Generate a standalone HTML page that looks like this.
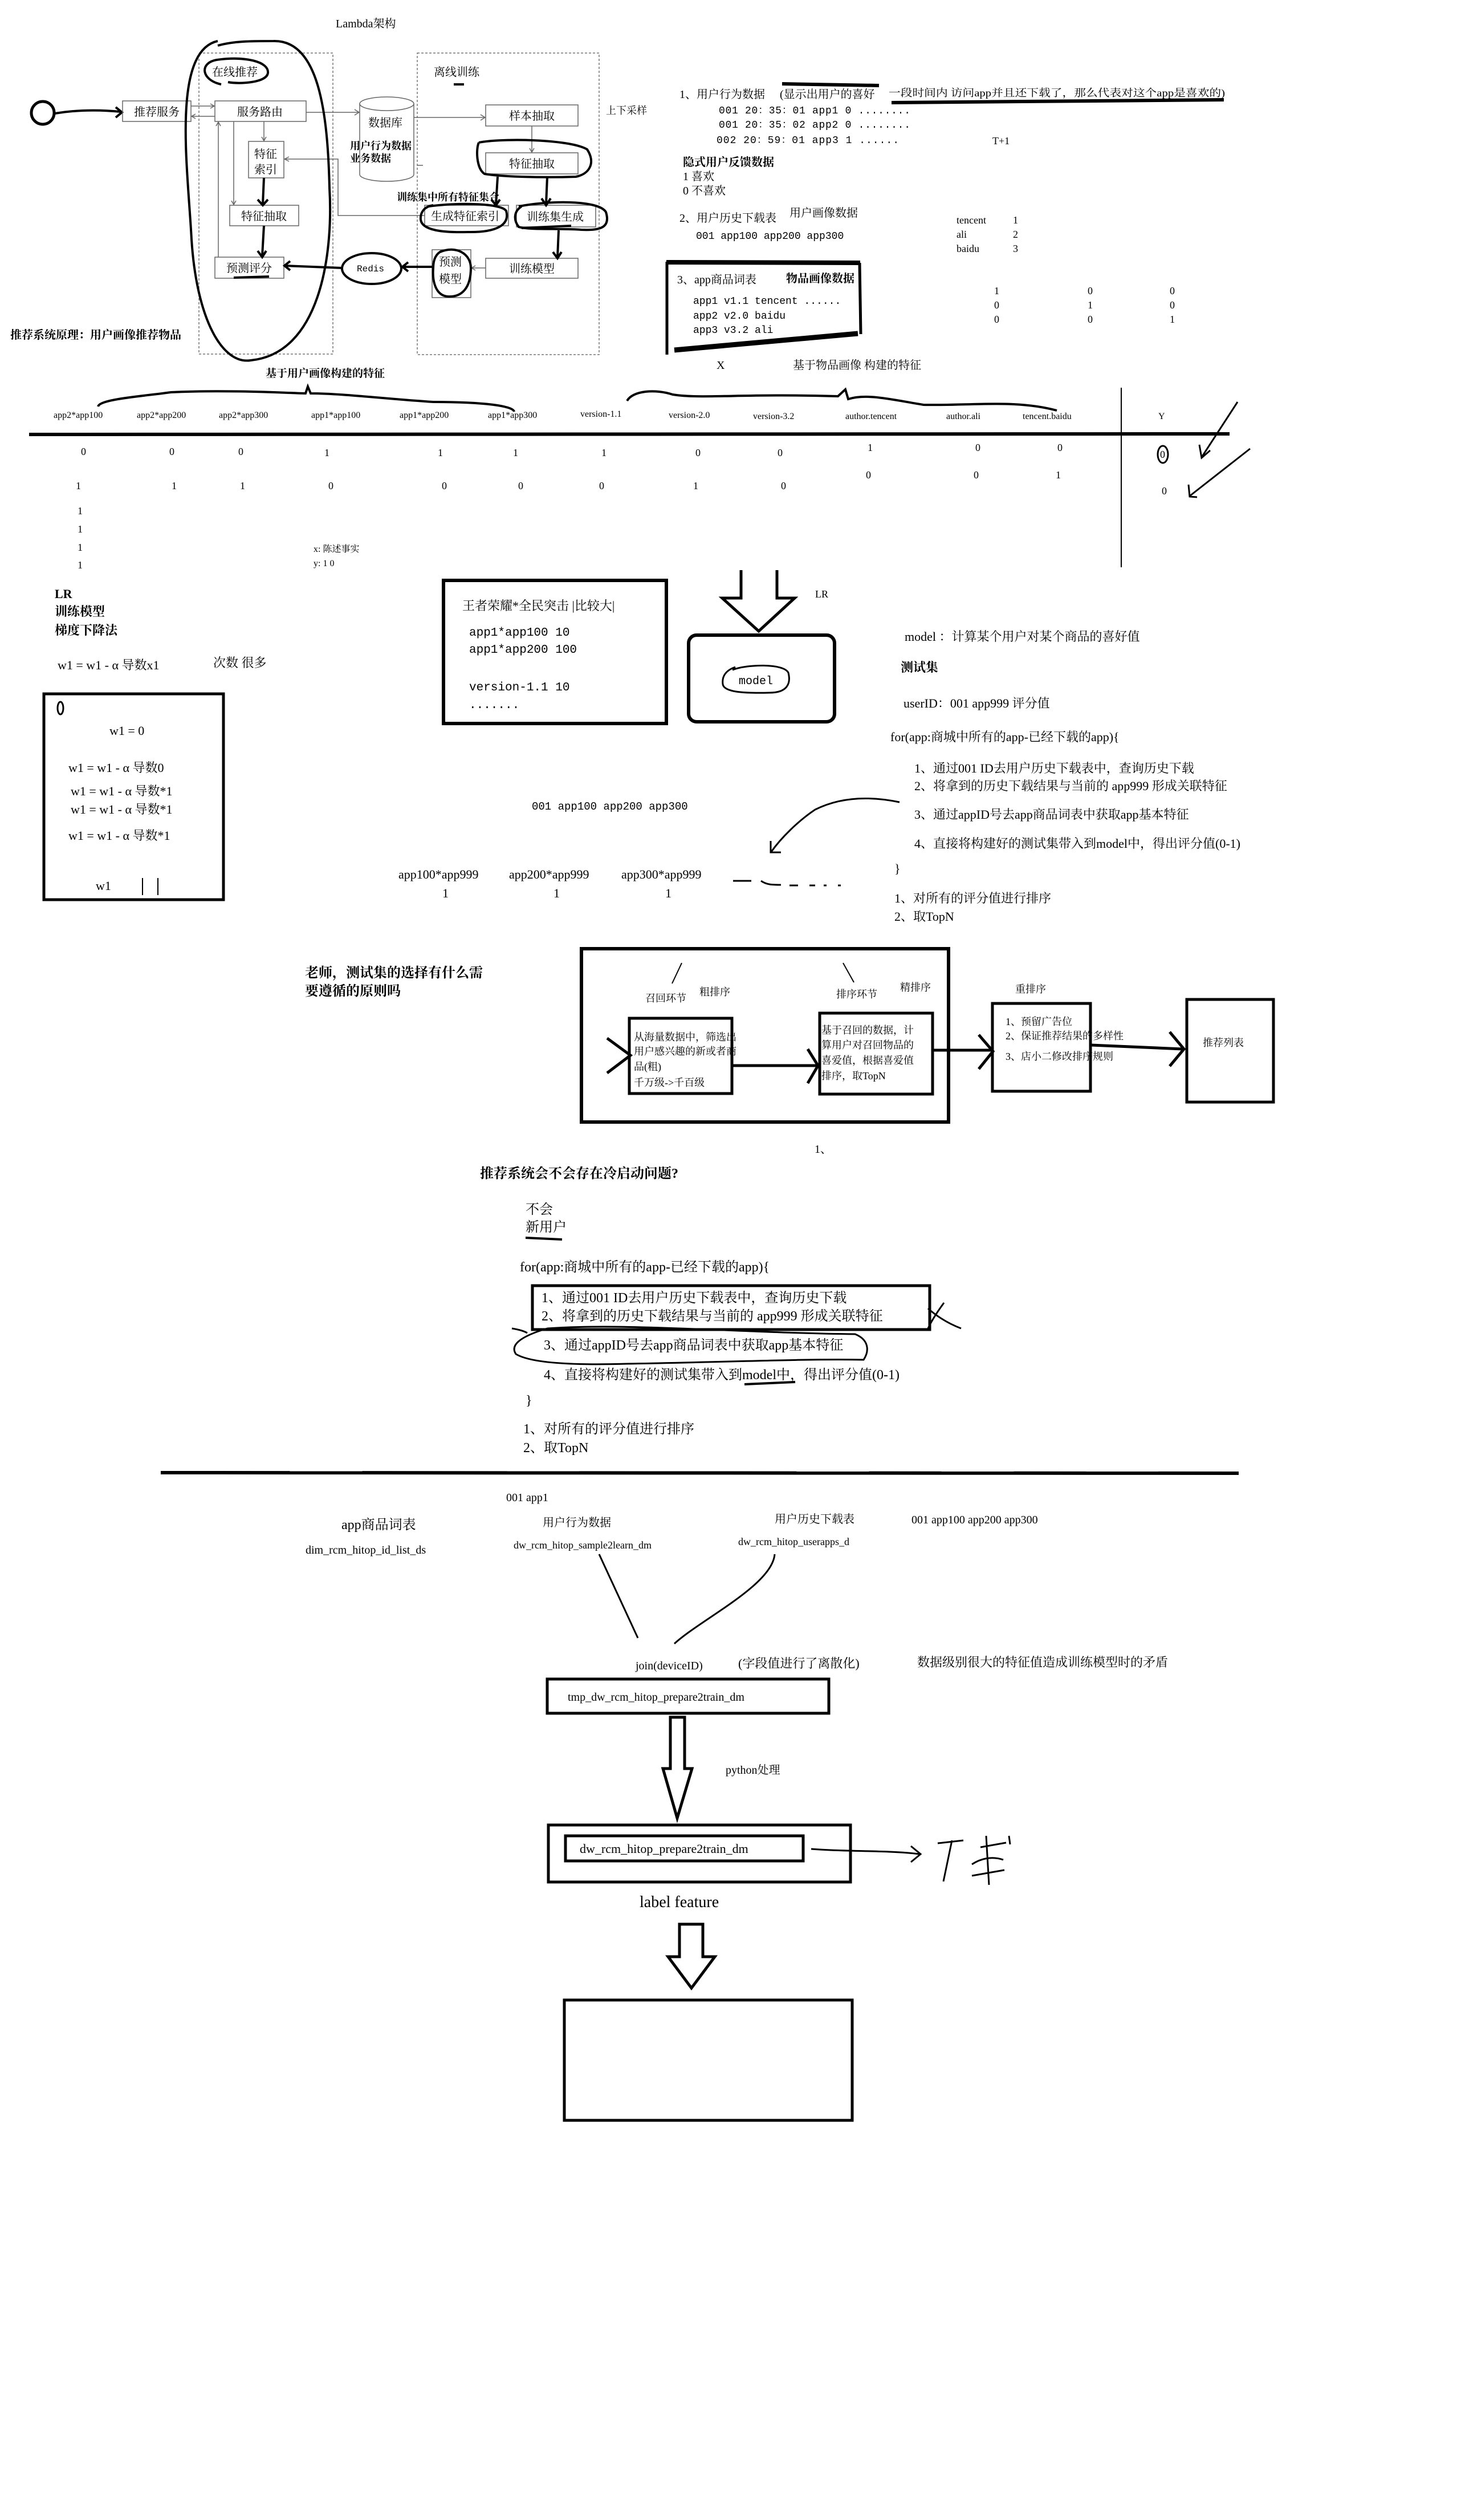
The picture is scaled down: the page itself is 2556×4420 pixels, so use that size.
<!DOCTYPE html>
<html><head><meta charset="utf-8">
<style>
html,body{margin:0;padding:0;background:#fff;}
svg{display:block;}
text{font-family:"Liberation Serif","Noto Serif CJK SC",serif;fill:#000;}
.m{font-family:"Liberation Mono","Noto Serif CJK SC",monospace;}
.a{font-family:"Liberation Sans","Noto Sans CJK SC",sans-serif;}
.b{font-weight:bold;}
</style></head>
<body>
<svg width="2556" height="4420" viewBox="0 0 2556 4420" xmlns="http://www.w3.org/2000/svg">
<rect width="2556" height="4420" fill="#fff"/>
<!-- ========== Section 1: Lambda ========== -->
<g font-size="20">
<text x="589" y="48">Lambda架构</text>
<rect x="349" y="93" width="235" height="528" fill="none" stroke="#777" stroke-width="1.5" stroke-dasharray="4,3"/>
<rect x="732" y="93" width="319" height="529" fill="none" stroke="#777" stroke-width="1.5" stroke-dasharray="4,3"/>
<circle cx="75" cy="198" r="20" fill="none" stroke="#000" stroke-width="5"/>
<path d="M96,199 Q150,190 212,196" fill="none" stroke="#000" stroke-width="4"/>
<polyline points="203,188 214,197 203,206" fill="none" stroke="#000" stroke-width="4"/>
<g fill="none" stroke="#666" stroke-width="1.5">
<rect x="215" y="177" width="120" height="36"/>
<rect x="377" y="177" width="160" height="36"/>
<rect x="436" y="248" width="62" height="64"/>
<rect x="403" y="360" width="121" height="36"/>
<rect x="377" y="451" width="121" height="37"/>
<rect x="852" y="184" width="162" height="37"/>
<rect x="852" y="268" width="162" height="37"/>
<rect x="745" y="360" width="147" height="36"/>
<rect x="906" y="360" width="139" height="38"/>
<rect x="852" y="453" width="162" height="35"/>
<rect x="758" y="438" width="68" height="84"/>
<path d="M335,186 H375 M369,182 L376,186 L369,190 M377,204 H337 M343,200 L336,204 L343,208"/>
<path d="M463,213 V246 M459,240 L463,247 L467,240"/>
<path d="M410,213 V358 M406,352 L410,359 L414,352"/>
<path d="M383,451 V215 M379,221 L383,214 L387,221"/>
<path d="M537,197 H629 M622,192 L630,197 L622,202"/>
<path d="M726,206 H850 M843,201 L851,206 L843,211"/>
<path d="M933,221 V266 M929,260 L933,267 L937,260"/>
<path d="M745,378 H593 V279 H500 M507,275 L499,279 L507,283"/>
<path d="M852,470 H828 M834,466 L827,470 L834,474"/>
<path d="M631,182 V306 A47.5,12 0 0 0 726,306 V182"/>
<ellipse cx="678.5" cy="182" rx="47.5" ry="12"/>
<path d="M732,290 H742"/>
</g>
<text x="235" y="203">推荐服务</text>
<text x="416" y="203">服务路由</text>
<text x="446" y="277">特征</text>
<text x="446" y="304">索引</text>
<text x="423" y="386">特征抽取</text>
<text x="397" y="477">预测评分</text>
<text x="646" y="222">数据库</text>
<text x="614" y="262" font-size="18" class="b">用户行为数据</text>
<text x="614" y="284" font-size="18" class="b">业务数据</text>
<text x="893" y="210">样本抽取</text>
<text x="893" y="294">特征抽取</text>
<text x="696" y="352" font-size="18" class="b">训练集中所有特征集合</text>
<text x="756" y="386">生成特征索引</text>
<text x="924" y="387">训练集生成</text>
<text x="893" y="478">训练模型</text>
<text x="770" y="466">预测</text>
<text x="770" y="496">模型</text>
<text x="626" y="476" font-size="16" class="m">Redis</text>
<text x="372" y="133">在线推荐</text>
<text x="761" y="133">离线训练</text>
<text x="1063" y="200" font-size="18">上下采样</text>
<text x="18" y="594" class="b">推荐系统原理：用户画像推荐物品</text>
<text x="466" y="661" class="b" font-size="19">基于用户画像构建的特征</text>
<g fill="none" stroke="#000" stroke-width="4">
<path d="M463,312 L461,358 M452,350 L461,360 L470,350"/>
<path d="M463,396 L460,449 M452,440 L460,451 L467,440"/>
<path d="M410,487 L472,485"/>
<path d="M600,470 L500,466 M509,458 L499,466 L509,474"/>
<path d="M758,468 L707,468 M716,460 L706,468 L716,476"/>
<ellipse cx="652" cy="471" rx="52" ry="27"/>
<path d="M382,72 C300,90 330,300 336,420 C345,560 390,640 440,632 C560,620 585,450 578,330 C575,200 560,70 480,72 C440,72 410,72 382,80"/>
<path d="M388,148 C352,140 350,110 380,105 C430,98 472,108 470,128 C468,145 420,148 400,144"/>
<path d="M796,148 H814"/>
<path d="M840,250 C880,242 1000,244 1030,262 C1045,285 1035,305 1010,310 C950,312 880,310 850,305 C835,295 835,260 840,250"/>
<path d="M873,310 L870,358 M862,350 L870,360 L877,350"/>
<path d="M960,310 L958,358 M950,348 L958,360 L966,348"/>
<path d="M752,362 C800,355 880,356 888,370 C895,395 870,408 820,407 C780,408 740,405 738,385 C737,372 745,362 760,360"/>
<path d="M910,362 C960,352 1050,350 1063,372 C1070,395 1060,405 1020,403 C980,400 930,404 910,398 C900,385 902,370 915,362"/>
<path d="M915,400 L1002,396"/>
<path d="M980,404 L978,451 M970,442 L978,453 L985,442"/>
<path d="M772,442 C800,430 826,445 826,470 C826,505 810,522 785,520 C765,518 758,495 760,470 C760,455 765,445 775,440"/>
</g>
</g>
<!-- ========== Section 2 ========== -->
<g font-size="20">
<text x="1192" y="172">1、用户行为数据</text>
<text x="1368" y="172">(显示出用户的喜好</text>
<text x="1559" y="169" font-size="18" textLength="590" lengthAdjust="spacingAndGlyphs">一段时间内 访问app并且还下载了，那么代表对这个app是喜欢的)</text>
<path d="M1372,147 L1542,150 M1564,180 L2147,175" stroke="#000" stroke-width="6"/>
<text x="1261" y="199" class="m" font-size="18" textLength="336">001  20：35：01  app1 0 ........</text>
<text x="1261" y="224" class="m" font-size="18" textLength="336">001  20：35：02  app2 0 ........</text>
<text x="1257" y="251" class="m" font-size="18" textLength="320">002  20：59：01  app3 1 ......</text>
<text x="1741" y="253" font-size="18">T+1</text>
<text x="1198" y="291" class="b">隐式用户反馈数据</text>
<text x="1198" y="316">1 喜欢</text>
<text x="1198" y="341">0 不喜欢</text>
<text x="1192" y="389">2、用户历史下载表</text>
<text x="1385" y="380">用户画像数据</text>
<text x="1221" y="419" class="m" font-size="18">001  app100 app200 app300</text>
<g class="m" font-size="18">
<text x="1678" y="392">tencent</text><text x="1777" y="392">1</text>
<text x="1678" y="417">ali</text><text x="1777" y="417">2</text>
<text x="1678" y="442">baidu</text><text x="1777" y="442">3</text>
<text x="1744" y="516">1</text><text x="1908" y="516">0</text><text x="2052" y="516">0</text>
<text x="1744" y="541">0</text><text x="1908" y="541">1</text><text x="2052" y="541">0</text>
<text x="1744" y="566">0</text><text x="1908" y="566">0</text><text x="2052" y="566">1</text>
</g>
<g stroke="#000" fill="none">
<path d="M1169,460 L1509,461" stroke-width="8"/>
<path d="M1170,459 L1170,622 M1508,461 L1510,586" stroke-width="5"/>
<path d="M1183,614 L1505,585" stroke-width="9"/>
</g>
<text x="1188" y="497">3、app商品词表</text>
<text x="1379" y="495" class="b">物品画像数据</text>
<text x="1216" y="533" class="m" font-size="18">app1 v1.1 tencent  ......</text>
<text x="1216" y="559" class="m" font-size="18">app2 v2.0 baidu</text>
<text x="1216" y="584" class="m" font-size="18">app3 v3.2 ali</text>
<text x="1257" y="647">X</text>
<text x="1391" y="647">基于物品画像 构建的特征</text>
</g>
<!-- ========== Section 3: feature table ========== -->
<g class="m" font-size="16" fill="#333">
<text x="94" y="733">app2*app100</text>
<text x="240" y="733">app2*app200</text>
<text x="384" y="733">app2*app300</text>
<text x="546" y="733">app1*app100</text>
<text x="701" y="733">app1*app200</text>
<text x="856" y="733">app1*app300</text>
<text x="1018" y="731">version-1.1</text>
<text x="1173" y="733">version-2.0</text>
<text x="1321" y="735">version-3.2</text>
<text x="1483" y="735">author.tencent</text>
<text x="1660" y="735">author.ali</text>
<text x="1794" y="735">tencent.baidu</text>
<text x="2032" y="735">Y</text>
</g>
<g stroke="#000" fill="none">
<path d="M51,762 L2157,761" stroke-width="6"/>
<path d="M1967,680 L1967,995" stroke-width="2"/>
<path d="M172,713 C175,700 250,695 300,688 C400,683 520,690 536,690 L540,678 L545,690 C600,690 680,700 760,705 C850,705 900,712 902,722" stroke-width="4"/>
<path d="M1100,703 C1110,685 1150,682 1180,692 C1230,700 1300,690 1470,695 L1483,683 L1488,700 C1520,690 1560,700 1620,710 C1700,712 1780,700 1854,720" stroke-width="4"/>
<path d="M2171,705 L2108,802 M2104,780 L2108,803 L2123,790" stroke-width="3"/>
<path d="M2193,787 L2087,870 M2085,850 L2087,871 L2100,872" stroke-width="3"/>
<ellipse cx="2040" cy="797" rx="9" ry="15" stroke-width="3"/>
</g>
<g class="m" font-size="18" fill="#5a3a00">
<text x="142" y="798">0</text><text x="297" y="798">0</text><text x="418" y="798">0</text><text x="569" y="800">1</text><text x="768" y="800">1</text><text x="900" y="800">1</text><text x="1055" y="800">1</text><text x="1220" y="800">0</text><text x="1364" y="800">0</text>
<text x="1522" y="791">1</text><text x="1711" y="791">0</text><text x="1855" y="791">0</text><text x="2035" y="803">0</text>
<text x="1519" y="839">0</text><text x="1708" y="839">0</text><text x="1852" y="839">1</text>
<text x="133" y="858">1</text><text x="301" y="858">1</text><text x="421" y="858">1</text><text x="576" y="858">0</text><text x="775" y="858">0</text><text x="909" y="858">0</text><text x="1051" y="858">0</text><text x="1216" y="858">1</text><text x="1370" y="858">0</text><text x="2038" y="867">0</text>
</g>
<g class="m" font-size="18">
<text x="136" y="902">1</text><text x="136" y="934">1</text><text x="136" y="966">1</text><text x="136" y="997">1</text>
</g>
<text x="550" y="968" font-size="16">x: 陈述事实</text>
<text x="550" y="993" font-size="16">y: 1 0</text>
<!-- ========== Section 4: LR ========== -->
<g font-size="22">
<text x="96" y="1049" class="b">LR</text>
<text x="96" y="1080" class="b">训练模型</text>
<text x="96" y="1113" class="b">梯度下降法</text>
<text x="101" y="1174">w1 = w1 - α 导数x1</text>
<text x="374" y="1170">次数 很多</text>
<rect x="77" y="1217" width="315" height="361" fill="none" stroke="#000" stroke-width="5"/>
<ellipse cx="106" cy="1242" rx="5" ry="11" fill="none" stroke="#000" stroke-width="3"/>
<text x="192" y="1289">w1 = 0</text>
<text x="120" y="1354">w1 = w1 - α 导数0</text>
<text x="124" y="1395">w1 = w1 - α 导数*1</text>
<text x="124" y="1427">w1 = w1 - α 导数*1</text>
<text x="120" y="1473">w1 = w1 - α 导数*1</text>
<text x="168" y="1561">w1</text>
<path d="M250,1540 V1570 M277,1540 V1570" stroke="#000" stroke-width="2"/>
<rect x="778" y="1018" width="391" height="251" fill="none" stroke="#000" stroke-width="6"/>
<text x="811" y="1070">王者荣耀*全民突击 |比较大|</text>
<text x="823" y="1115" class="m" font-size="21">app1*app100  10</text>
<text x="823" y="1145" class="m" font-size="21">app1*app200  100</text>
<text x="823" y="1211" class="m" font-size="21">version-1.1  10</text>
<text x="823" y="1242" class="m" font-size="21">.......</text>
<path d="M1300,1000 V1049 H1267 L1331,1107 L1394,1049 H1363 V1000" fill="none" stroke="#000" stroke-width="5"/>
<text x="1430" y="1048" font-size="18">LR</text>
<rect x="1208" y="1114" width="256" height="152" rx="14" fill="none" stroke="#000" stroke-width="6"/>
<path d="M1285,1175 C1310,1165 1375,1163 1383,1180 C1388,1200 1380,1215 1350,1215 C1310,1216 1270,1215 1268,1200 C1266,1185 1275,1175 1290,1170" fill="none" stroke="#000" stroke-width="3"/>
<text x="1296" y="1200" class="m" font-size="20">model</text>
<text x="1587" y="1124">model ：计算某个用户对某个商品的喜好值</text>
<text x="1580" y="1178" class="b">测试集</text>
<text x="1585" y="1241">userID：001    app999  评分值</text>
<text x="1562" y="1300">for(app:商城中所有的app-已经下载的app){</text>
<text x="1604" y="1355">1、通过001 ID去用户历史下载表中，查询历史下载</text>
<text x="1604" y="1386">2、将拿到的历史下载结果与当前的 app999 形成关联特征</text>
<text x="1604" y="1436">3、通过appID号去app商品词表中获取app基本特征</text>
<text x="1604" y="1487">4、直接将构建好的测试集带入到model中，得出评分值(0-1)</text>
<text x="1569" y="1531">}</text>
<text x="1569" y="1583">1、对所有的评分值进行排序</text>
<text x="1569" y="1615">2、取TopN</text>
<text x="933" y="1420" class="m" font-size="19">001  app100 app200 app300</text>
<text x="699" y="1541">app100*app999</text>
<text x="893" y="1541">app200*app999</text>
<text x="1090" y="1541">app300*app999</text>
<text x="776" y="1574">1</text><text x="971" y="1574">1</text><text x="1167" y="1574">1</text>
<g fill="none" stroke="#000" stroke-width="3">
<path d="M1578,1407 C1520,1395 1470,1400 1430,1420 C1400,1440 1370,1470 1353,1494"/>
<path d="M1352,1475 L1352,1495 L1370,1495"/>
<path d="M1286,1545 H1318 M1335,1545 C1345,1552 1355,1552 1370,1552 M1385,1553 H1400 M1420,1553 H1430 M1445,1553 H1450 M1470,1553 H1475"/>
</g>
</g>
<!-- ========== Section 5: pipeline ========== -->
<g font-size="21">
<text x="535" y="1714" font-size="24" class="b">老师，测试集的选择有什么需</text>
<text x="535" y="1746" font-size="24" class="b">要遵循的原则吗</text>
<rect x="1020" y="1664" width="644" height="304" fill="none" stroke="#000" stroke-width="6"/>
<path d="M1196,1689 L1179,1725 M1479,1689 L1498,1723" stroke="#000" stroke-width="2"/>
<text x="1132" y="1757" font-size="18">召回环节</text>
<text x="1227" y="1746" font-size="18">粗排序</text>
<text x="1467" y="1750" font-size="18">排序环节</text>
<text x="1579" y="1738" font-size="18">精排序</text>
<text x="1781" y="1741" font-size="18">重排序</text>
<rect x="1104" y="1786" width="180" height="132" fill="none" stroke="#000" stroke-width="5"/>
<g font-size="18">
<text x="1112" y="1825">从海量数据中，筛选出</text>
<text x="1112" y="1850">用户感兴趣的新或者商</text>
<text x="1112" y="1877">品(粗)</text>
<text x="1112" y="1905">千万级-&gt;千百级</text>
</g>
<rect x="1438" y="1777" width="198" height="142" fill="none" stroke="#000" stroke-width="5"/>
<g font-size="18">
<text x="1441" y="1813">基于召回的数据，计</text>
<text x="1441" y="1839">算用户对召回物品的</text>
<text x="1441" y="1866">喜爱值，根据喜爱值</text>
<text x="1441" y="1893">排序，取TopN</text>
</g>
<rect x="1741" y="1760" width="172" height="154" fill="none" stroke="#000" stroke-width="5"/>
<g font-size="18">
<text x="1764" y="1798">1、预留广告位</text>
<text x="1764" y="1823">2、保证推荐结果的多样性</text>
<text x="1764" y="1859">3、店小二修改排序规则</text>
</g>
<rect x="2082" y="1753" width="152" height="180" fill="none" stroke="#000" stroke-width="5"/>
<text x="2110" y="1835" font-size="18">推荐列表</text>
<g fill="none" stroke="#000" stroke-width="5">
<path d="M1065,1821 L1106,1851 L1065,1882"/>
<path d="M1285,1869 L1437,1869 M1417,1840 L1435,1869 L1417,1900"/>
<path d="M1637,1842 L1740,1842 M1717,1815 L1742,1844 L1717,1875"/>
<path d="M1914,1833 L2075,1840 M2052,1810 L2077,1840 L2052,1870"/>
</g>
<text x="1429" y="2022" font-size="20">1、</text>
</g>
<!-- ========== Section 6: cold start ========== -->
<g font-size="24">
<text x="842" y="2066" class="b">推荐系统会不会存在冷启动问题?</text>
<text x="922" y="2129">不会</text>
<text x="922" y="2160">新用户</text>
<path d="M922,2171 L986,2174" stroke="#000" stroke-width="4"/>
<text x="912" y="2230">for(app:商城中所有的app-已经下载的app){</text>
<rect x="934" y="2255" width="697" height="77" fill="none" stroke="#000" stroke-width="5"/>
<text x="950" y="2284">1、通过001 ID去用户历史下载表中，查询历史下载</text>
<text x="950" y="2316">2、将拿到的历史下载结果与当前的 app999 形成关联特征</text>
<text x="954" y="2367">3、通过appID号去app商品词表中获取app基本特征</text>
<text x="954" y="2419">4、直接将构建好的测试集带入到model中，得出评分值(0-1)</text>
<text x="922" y="2464">}</text>
<text x="918" y="2514">1、对所有的评分值进行排序</text>
<text x="918" y="2547">2、取TopN</text>
<g fill="none" stroke="#000" stroke-width="3">
<path d="M1656,2285 C1645,2300 1635,2315 1628,2330 M1628,2295 C1645,2310 1665,2322 1686,2330"/>
<path d="M898,2330 C910,2332 920,2335 925,2338"/>
<path d="M960,2330 C1100,2320 1300,2338 1500,2340 C1525,2350 1525,2370 1515,2385 C1400,2383 1250,2390 1100,2392 C1000,2395 930,2390 905,2375 C895,2360 910,2345 960,2330"/>
<path d="M1306,2428 L1395,2424" stroke-width="4"/>
</g>
</g>
<!-- ========== Section 7: data pipeline ========== -->
<path d="M282,2583 L2173,2584" stroke="#000" stroke-width="6"/>
<g class="a" font-size="20">
<text x="888" y="2633">001 app1</text>
<text x="599" y="2682" font-size="24">app商品词表</text>
<text x="536" y="2725">dim_rcm_hitop_id_list_ds</text>
<text x="952" y="2677">用户行为数据</text>
<text x="901" y="2716" font-size="18">dw_rcm_hitop_sample2learn_dm</text>
<text x="1359" y="2671">用户历史下载表</text>
<text x="1295" y="2710" font-size="18">dw_rcm_hitop_userapps_d</text>
<text x="1599" y="2672">001 app100 app200 app300</text>
<text x="1115" y="2928">join(deviceID)</text>
<text x="1295" y="2925" font-size="22">(字段值进行了离散化)</text>
<text x="1609" y="2923" font-size="22">数据级别很大的特征值造成训练模型时的矛盾</text>
<rect x="960" y="2945" width="494" height="60" fill="none" stroke="#000" stroke-width="5"/>
<text x="996" y="2983">tmp_dw_rcm_hitop_prepare2train_dm</text>
<path d="M1176,3012 H1201 V3102 H1214 L1188,3189 L1163,3102 H1176 Z" fill="none" stroke="#000" stroke-width="5"/>
<text x="1273" y="3111">python处理</text>
<rect x="962" y="3201" width="530" height="100" fill="none" stroke="#000" stroke-width="5"/>
<rect x="992" y="3220" width="417" height="44" fill="none" stroke="#000" stroke-width="5"/>
<text x="1017" y="3250" font-size="22">dw_rcm_hitop_prepare2train_dm</text>
<text x="1122" y="3345" font-size="28">label feature</text>
</g>
<g fill="none" stroke="#000" stroke-width="3">
<path d="M1051,2726 L1119,2873"/>
<path d="M1359,2726 C1355,2780 1230,2840 1183,2883"/>
<path d="M1423,3243 C1480,3248 1560,3245 1613,3252 M1598,3238 L1615,3252 L1598,3266"/>
<path d="M1645,3233 L1690,3228 M1670,3228 L1655,3300 M1720,3240 L1765,3232 M1730,3220 L1735,3306 M1705,3270 C1720,3260 1740,3255 1760,3262 M1705,3290 L1762,3280 M1770,3220 L1772,3235"/>
<path d="M1192,3375 H1233 V3432 H1254 L1213,3487 L1172,3432 H1192 Z" stroke-width="5"/>
</g>
<rect x="990" y="3508" width="505" height="211" fill="none" stroke="#000" stroke-width="5"/>
</svg>
</body></html>
